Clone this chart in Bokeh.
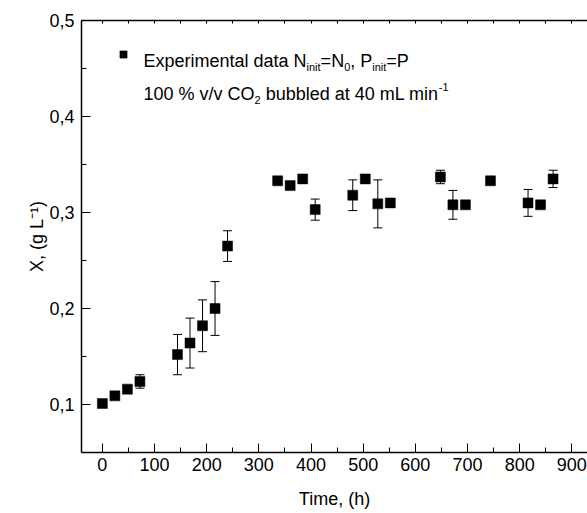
import math
from bokeh.plotting import figure
from bokeh.models import (Range1d, FixedTicker, LinearAxis, CustomJSTickFormatter,
                          Whisker, TeeHead, ColumnDataSource, Label, Legend, LegendItem)
from bokeh.embed import file_html
from bokeh.resources import INLINE

# ---------------- data ----------------
time_h = [0, 24, 48, 72, 144, 168, 192, 216, 240, 336, 360, 384, 408,
          480, 504, 528, 552, 648, 672, 696, 744, 816, 840, 864]
biomass = [0.101, 0.109, 0.116, 0.124, 0.152, 0.164, 0.182, 0.200, 0.265,
           0.333, 0.328, 0.335, 0.303, 0.318, 0.335, 0.309, 0.310,
           0.337, 0.308, 0.308, 0.333, 0.310, 0.308, 0.335]
biomass_err = [0.003, 0.003, 0.003, 0.007, 0.021, 0.026, 0.027, 0.028, 0.016,
               0.003, 0.003, 0.003, 0.011, 0.016, 0.003, 0.025, 0.003,
               0.007, 0.015, 0.003, 0.003, 0.014, 0.003, 0.009]

x_major = [0, 100, 200, 300, 400, 500, 600, 700, 800, 900]
x_minor = [50, 150, 250, 350, 450, 550, 650, 750, 850, 950]
y_major = [0.1, 0.2, 0.3, 0.4, 0.5]
y_minor = [0.15, 0.25, 0.35, 0.45]

legend_line1 = [("Experimental data N", "n"), ("init", "sub"), ("=N", "n"), ("0", "sub"),
                (", P", "n"), ("init", "sub"), ("=P", "n")]
legend_line2 = [("100 % v/v CO", "n"), ("2", "sub"), (" bubbled at 40 mL min", "n"), ("-1", "sup")]
y_title = "X, (g L\u207b\u00b9)"
x_title = "Time, (h)"

# ---------------- layout ----------------
W, H = 587, 513
FL, FR, FT, FB = 81, 587, 20, 452
X0, X1 = -40, 930
Y0, Y1 = 0.05, 0.5
FONT = "Liberation Sans"
FS, SS = 18, 11
SUB_OFF, SUP_OFF = 6, -7


def dx(px):
    return X0 + (px - FL) * (X1 - X0) / (FR - FL)


def dy(py):
    return Y1 - (py - FT) * (Y1 - Y0) / (FB - FT)


ARIAL = {' ': 278, '%': 889, '(': 333, ')': 333, ',': 278, '-': 333, '/': 278, '=': 584,
         'C': 722, 'E': 667, 'L': 556, 'N': 722, 'O': 778, 'P': 667, 'X': 667, 'T': 611,
         'a': 556, 'b': 556, 'd': 556, 'e': 556, 'g': 556, 'h': 556, 'i': 222, 'l': 222,
         'm': 833, 'n': 556, 'p': 556, 'r': 333, 't': 278, 'u': 556, 'v': 500, 'x': 500}


def tw(s, size):
    return sum(ARIAL.get(c, 556) for c in s) * size / 1000.0


p = figure(width=W, height=H, output_backend="svg", toolbar_location=None,
           x_range=Range1d(X0, X1), y_range=Range1d(Y0, Y1),
           min_border_left=FL, min_border_right=W - FR, min_border_top=FT,
           min_border_bottom=H - FB)
p.outline_line_color = None
p.grid.visible = False
p.background_fill_color = "white"
p.border_fill_color = "white"

top = LinearAxis()
p.add_layout(top, "above")
bottom = p.below[0]
left = p.left[0]

bottom.ticker = FixedTicker(ticks=x_major, minor_ticks=x_minor)
top.ticker = FixedTicker(ticks=x_major, minor_ticks=x_minor)
left.ticker = FixedTicker(ticks=y_major, minor_ticks=y_minor)
left.formatter = CustomJSTickFormatter(code="return tick.toFixed(1).replace('.', ',');")
top.formatter = CustomJSTickFormatter(code="return '';")

for ax in [bottom, left, top]:
    ax.axis_line_width = 1.5
    ax.axis_line_color = "black"
    ax.major_tick_out = 0
    ax.minor_tick_out = 0
    ax.major_tick_in = 9
    ax.minor_tick_in = 5
    ax.major_tick_line_width = 1
    ax.minor_tick_line_width = 1
    ax.major_tick_line_color = "black"
    ax.minor_tick_line_color = "black"
    ax.major_label_text_font = FONT
    ax.major_label_text_font_size = f"{FS}px"
    ax.major_label_text_color = "black"
    ax.axis_label_text_font = FONT
    ax.axis_label_text_font_size = f"{FS}px"
    ax.axis_label_text_font_style = "normal"
    ax.axis_label_text_color = "black"
top.major_tick_in = 3
top.minor_tick_in = 3
top.major_label_standoff = 0
bottom.major_label_standoff = 5
left.major_label_standoff = 7
bottom.axis_label = x_title
bottom.axis_label_standoff = 15
left.axis_label = y_title
left.axis_label_standoff = -1

src = ColumnDataSource(dict(
    t=time_h, X=biomass,
    up=[v + e for v, e in zip(biomass, biomass_err)],
    lo=[v - e for v, e in zip(biomass, biomass_err)]))

wh = Whisker(source=src, base="t", upper="up", lower="lo", dimension="height",
             line_color="black", line_width=1, level="underlay",
             upper_head=TeeHead(size=9, line_color="black", line_width=1),
             lower_head=TeeHead(size=9, line_color="black", line_width=1))
p.add_layout(wh)

r = p.scatter("t", "X", source=src, marker="square", size=10,
              fill_color="black", line_color="black", line_width=0.5)

legend = Legend(items=[LegendItem(label=" ", renderers=[r])], location=(33, 389),
                padding=0, margin=0, spacing=0, glyph_width=18, glyph_height=18,
                label_height=18, label_width=1, label_standoff=0,
                label_text_font_size="1px", border_line_color=None,
                background_fill_alpha=0)
p.add_layout(legend)


def rich(segments, px, py):
    for s, kind in segments:
        size = FS if kind == "n" else SS
        off = 0 if kind == "n" else (SUB_OFF if kind == "sub" else SUP_OFF)
        lead = len(s) - len(s.lstrip(" "))
        px += tw(" " * lead, size)
        body = s.strip(" ")
        lab = Label(x=dx(px), y=dy(py + off), text=body,
                    text_font=FONT, text_font_size=f"{size}px", text_color="black",
                    text_align="left", text_baseline="alphabetic")
        p.add_layout(lab)
        px += tw(s.lstrip(" "), size)


rich(legend_line1, 143, 60)
rich(legend_line2, 143, 93)

open("out.html", "w").write(file_html(p, INLINE))
